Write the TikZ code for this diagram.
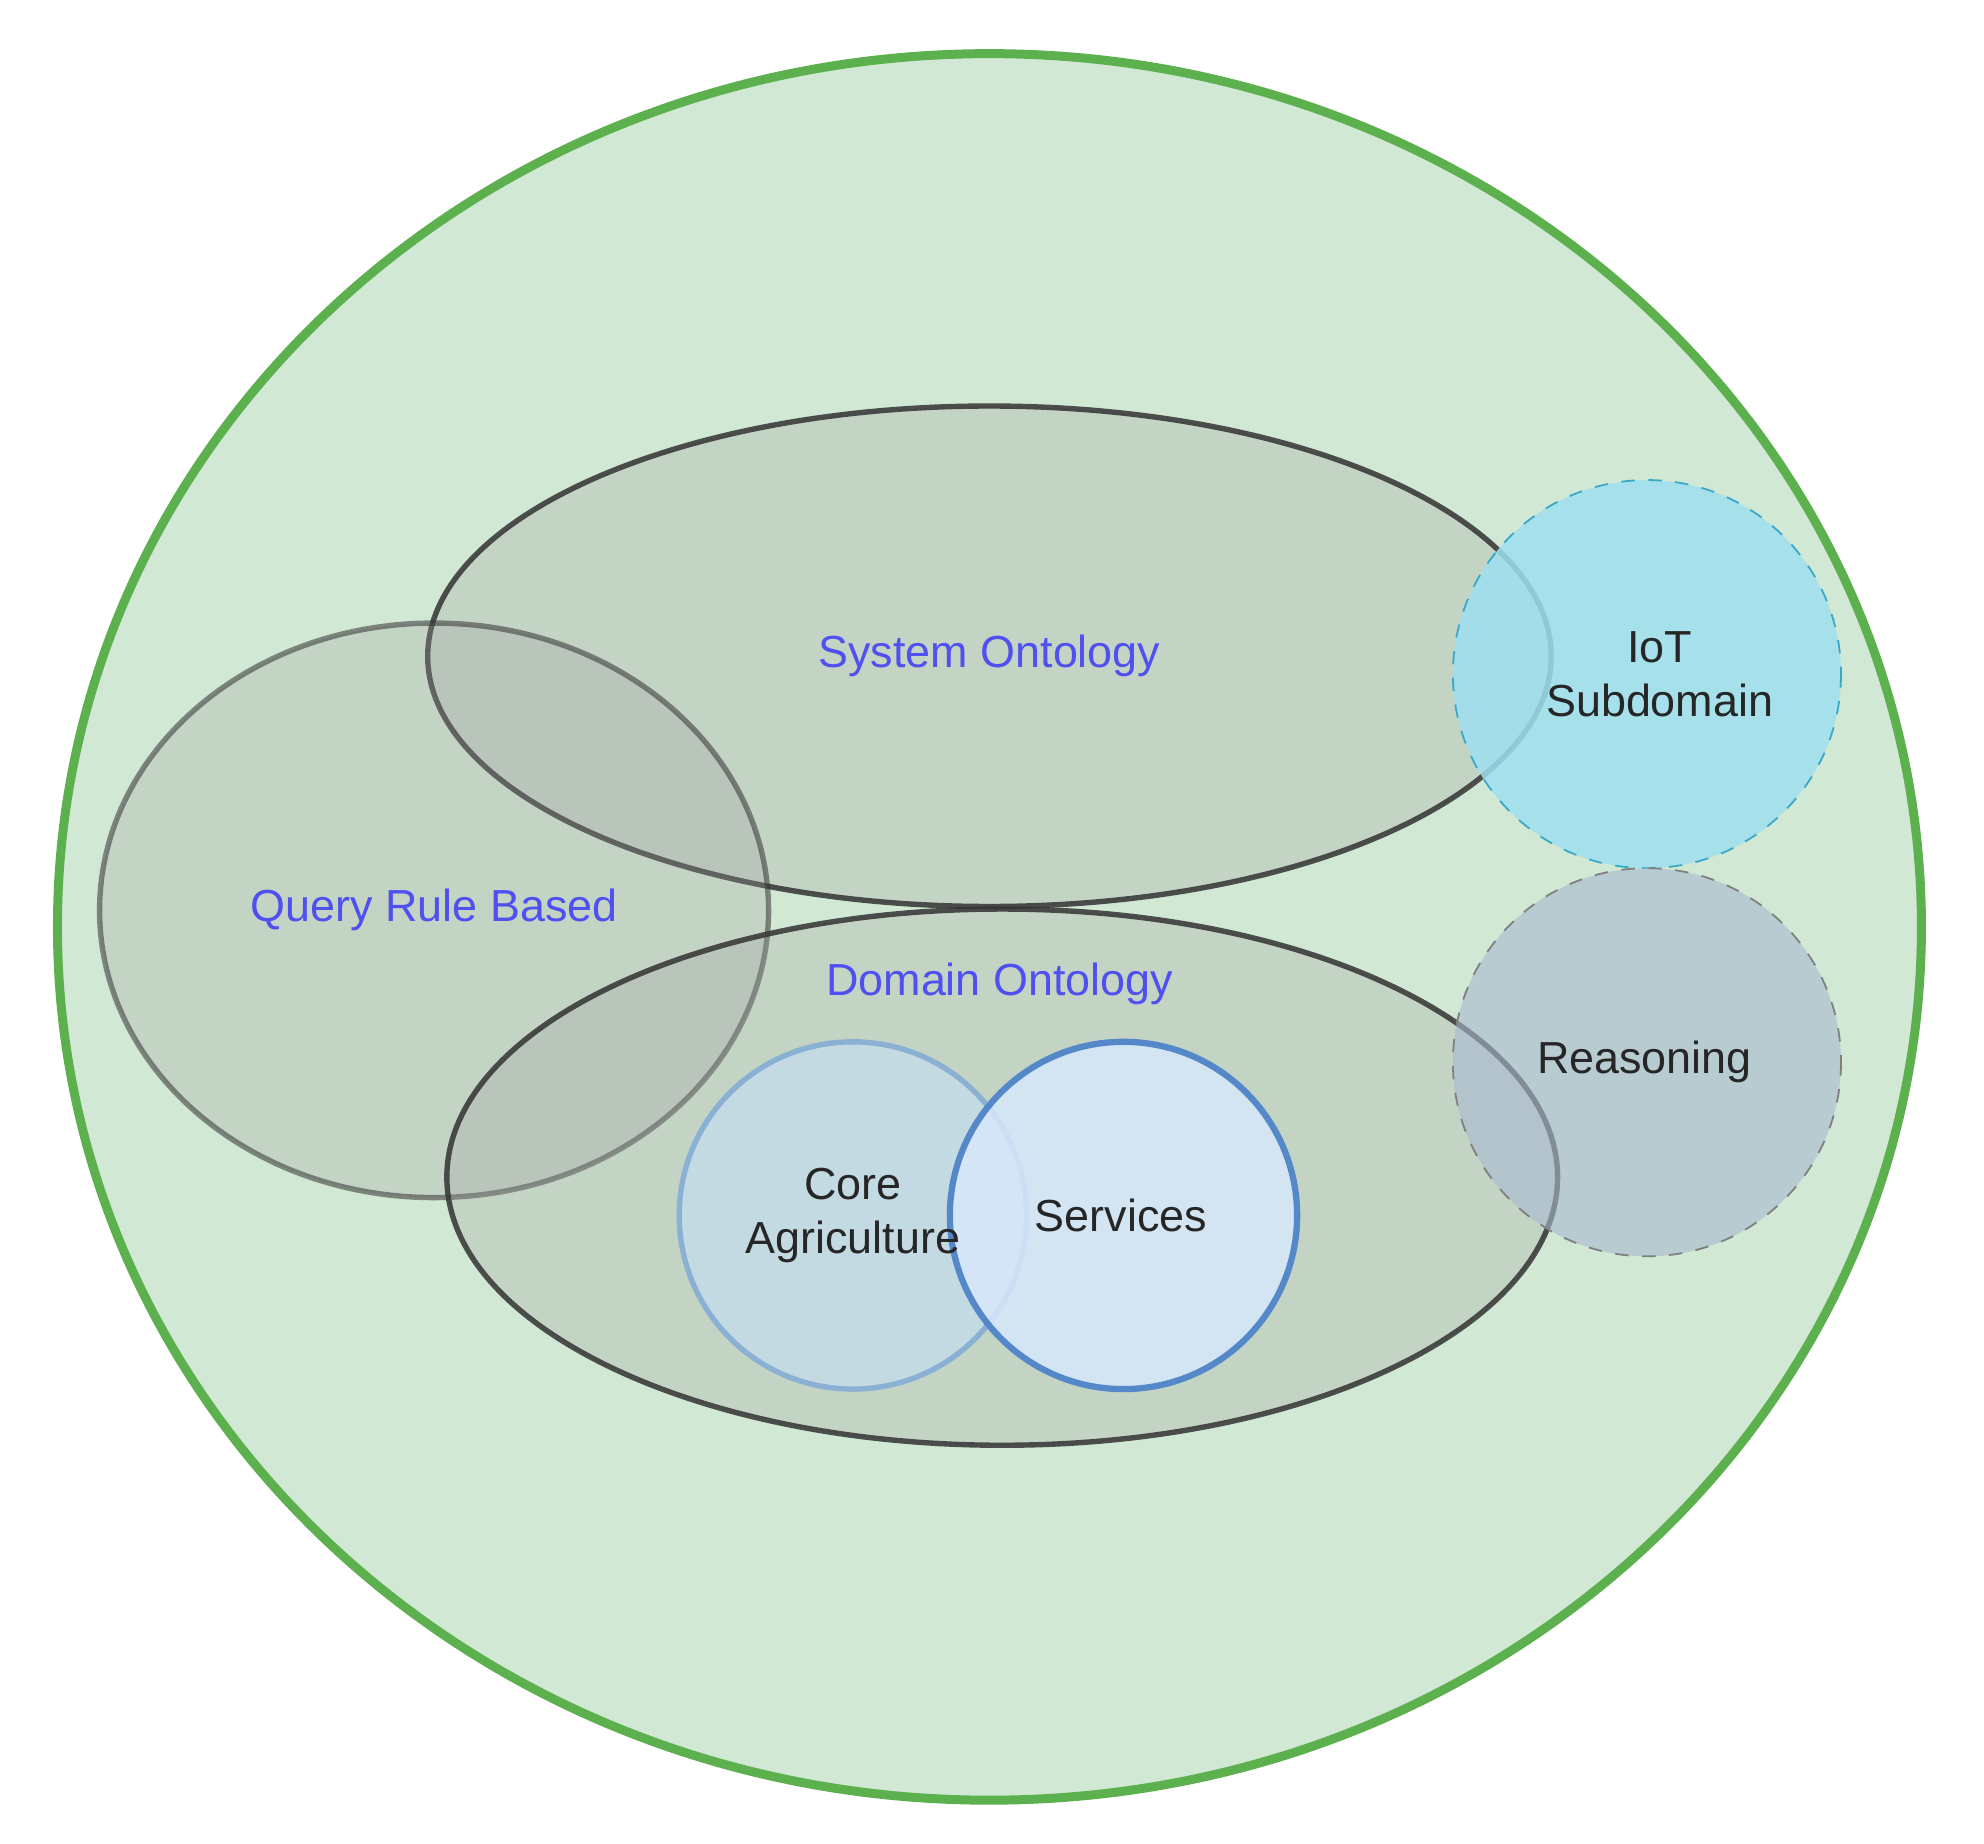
\documentclass[tikz,border=0pt]{standalone}
\usepackage{fontspec}
\setmainfont{Liberation Sans}
\definecolor{bgG}{HTML}{D1E8D4}
\definecolor{bgS}{HTML}{5CB04E}
\definecolor{ovF}{HTML}{A0A0A0}
\definecolor{iotF}{HTML}{9EDFF0}
\definecolor{iotS}{HTML}{3AA8C8}
\definecolor{reF}{HTML}{A8B8D0}
\definecolor{caF}{HTML}{C4DCE8}
\definecolor{caS}{HTML}{8AB0D4}
\definecolor{seF}{HTML}{D6E8FA}
\definecolor{seS}{HTML}{5588C8}
\definecolor{lbl}{HTML}{5050F0}
\begin{document}
\begin{tikzpicture}[x=0.01cm,y=-0.01cm,
  ov/.style={draw=black!80,line width=1.2pt,fill=ovF,fill opacity=0.27,draw opacity=0.85},
  blu/.style={text=lbl,font=\fontsize{10}{12}\selectfont},
  blk/.style={text=black!85,font=\fontsize{10}{12}\selectfont,align=center}]
\useasboundingbox (0,0) rectangle (1554,1444);
\draw[fill=bgG,draw=bgS,line width=2pt] (775,726) ellipse [x radius=730,y radius=684];
\path[ov] (775,514) ellipse [x radius=440,y radius=196];
\path[ov,draw opacity=0.55] (340,713) ellipse [x radius=262,y radius=225];
\path[ov] (785,922) ellipse [x radius=435,y radius=210];
\draw[dashed,draw=iotS,fill=iotF,fill opacity=0.85] (1290,528) circle [radius=152];
\draw[dashed,draw=gray,fill=reF,fill opacity=0.6] (1290,832) circle [radius=152];
\draw[draw=caS,line width=1.2pt,fill=caF,fill opacity=0.85] (668,952) circle [radius=136];
\draw[draw=seS,line width=1.4pt,fill=seF,fill opacity=0.85] (880,952) circle [radius=136];
\node[blu] (so) at (775,514) {System Ontology};
\node[blu] (qr) at (340,713) {Query Rule Based};
\node[blu] (do) at (783,771) {Domain Ontology};
\node[blk] (iot) at (1300,528) {IoT\\Subdomain};
\node[blk] (re) at (1288,832) {Reasoning};
\node[blk] (ca) at (668,952) {Core\\Agriculture};
\node[blk] (se) at (878,952) {Services};
\end{tikzpicture}
\end{document}
